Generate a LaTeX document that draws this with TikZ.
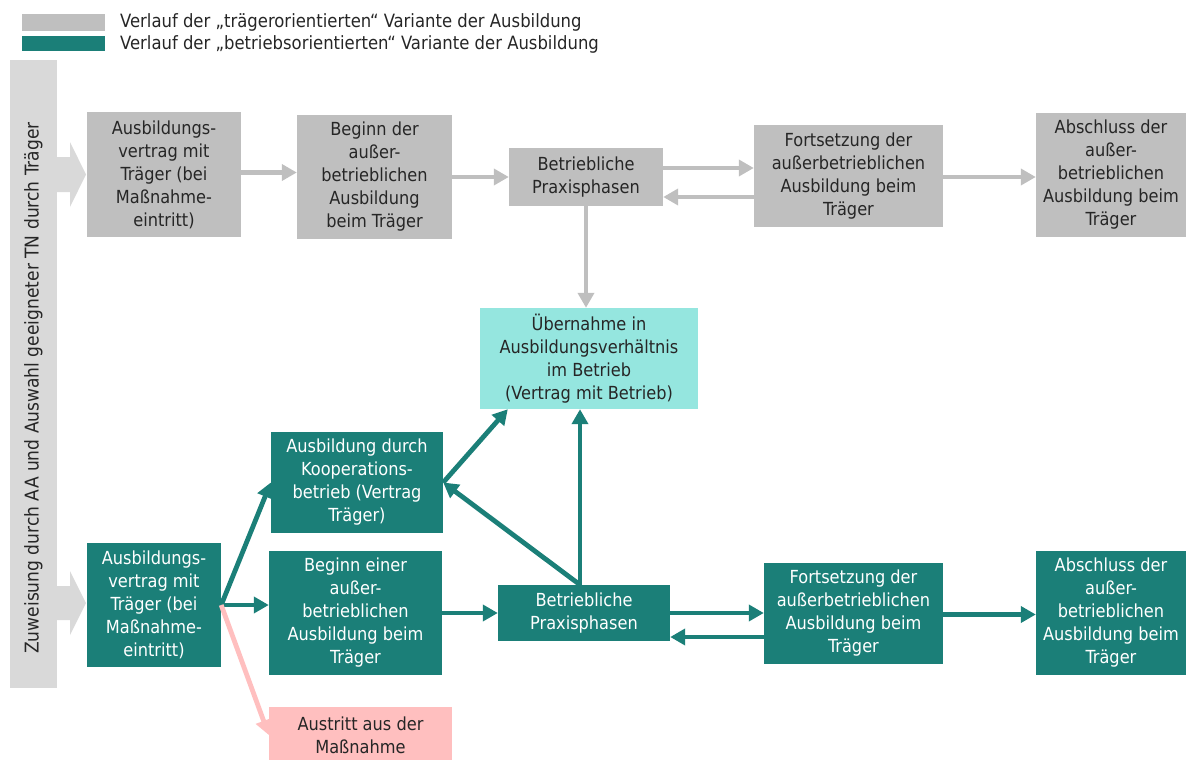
\documentclass[tikz,border=0pt]{standalone}
\usepackage{fontspec}
\setmainfont{DejaVu Sans Condensed}
\usetikzlibrary{arrows.meta}
\definecolor{boxgray}{HTML}{BFBFBF}
\definecolor{bargray}{HTML}{D9D9D9}
\definecolor{teal}{HTML}{1B7F78}
\definecolor{turq}{HTML}{95E6DF}
\definecolor{pinkbox}{HTML}{FFBFBF}
\definecolor{txtdark}{HTML}{262626}
\tikzset{
  box/.style={minimum width=#1, inner sep=0pt, align=center,
    font=\fontsize{18}{23}\selectfont},
  graybox/.style={box=#1, fill=boxgray, text=txtdark},
  tealbox/.style={box=#1, fill=teal, text=white},
  arr/.style={line width=4.8pt, -{Triangle[length=15pt,width=16pt]}},
  grayarr/.style={arr, draw=boxgray},
  tealarr/.style={arr, draw=teal},
  pinkarr/.style={arr, draw=pinkbox},
  legtext/.style={anchor=west, inner sep=0pt, text=txtdark, font=\fontsize{18.3}{20}\selectfont},
}
\begin{document}
\begin{tikzpicture}[x=1pt,y=-1pt]
\useasboundingbox (0,0) rectangle (1187,760);
\clip (0,0) rectangle (1187,760);
% legend
\fill[boxgray] (22,14) rectangle (105,31);
\fill[teal] (22,36) rectangle (105,51);
\node[legtext] (leg1) at (120,22) {Verlauf der „trägerorientierten“ Variante der Ausbildung};
\node[legtext] (leg2) at (120,44) {Verlauf der „betriebsorientierten“ Variante der Ausbildung};
% left bar
\fill[bargray] (10,60) rectangle (57,688);
\node[inner sep=0pt, rotate=90, text=txtdark, font=\fontsize{19}{20}\selectfont] (bar) at (33.5,388)
  {Zuweisung durch AA und Auswahl geeigneter TN durch Träger};
% chevrons
\fill[bargray] (57,157) -- (70,157) -- (70,142) -- (86,174.5) -- (70,207) -- (70,192) -- (57,192) -- cycle;
\fill[bargray] (57,586) -- (70,586) -- (70,571) -- (86,603) -- (70,635) -- (70,620) -- (57,620) -- cycle;
% top row
\node[graybox=154pt, minimum height=125pt] (t1) at (164,174.5) {Ausbildungs-\\vertrag mit\\Träger (bei\\Maßnahme-\\eintritt)};
\node[graybox=155pt, minimum height=124pt] (t2) at (374.5,177) {Beginn der\\außer-\\betrieblichen\\Ausbildung\\beim Träger};
\node[graybox=154pt, minimum height=58pt] (t3) at (586,177) {Betriebliche\\Praxisphasen};
\node[graybox=189pt, minimum height=102pt] (t4) at (848.5,176) {Fortsetzung der\\außerbetrieblichen\\Ausbildung beim\\Träger};
\node[graybox=150pt, minimum height=124pt] (t5) at (1111,175) {Abschluss der\\außer-\\betrieblichen\\Ausbildung beim\\Träger};
% Übernahme
\node[box=218pt, minimum height=101pt, fill=turq, text=txtdark] (u) at (589,358.5) {Übernahme in\\Ausbildungsverhältnis\\im Betrieb\\(Vertrag mit Betrieb)};
% bottom row
\node[tealbox=134pt, minimum height=124pt] (b1) at (154,605) {Ausbildungs-\\vertrag mit\\Träger (bei\\Maßnahme-\\eintritt)};
\node[tealbox=172pt, minimum height=101pt] (bk) at (357,482.5) {Ausbildung durch\\Kooperations-\\betrieb (Vertrag\\Träger)};
\node[tealbox=173pt, minimum height=124pt] (b2) at (355.5,613) {Beginn einer\\außer-\\betrieblichen\\Ausbildung beim\\Träger};
\node[tealbox=172pt, minimum height=56pt] (b3) at (584,613) {Betriebliche\\Praxisphasen};
\node[tealbox=179pt, minimum height=101pt] (b4) at (853.5,613.5) {Fortsetzung der\\außerbetrieblichen\\Ausbildung beim\\Träger};
\node[tealbox=150pt, minimum height=124pt] (b5) at (1111,613) {Abschluss der\\außer-\\betrieblichen\\Ausbildung beim\\Träger};
\node[box=183pt, minimum height=56pt, fill=pinkbox, text=txtdark] (ba) at (360.5,735) {Austritt aus der\\Maßnahme};
% top arrows
\draw[grayarr] ([yshift=2pt]t1.east) -- ([yshift=2pt]t1.east -| t2.west);
\draw[grayarr] (t2.east) -- (t2.east -| t3.west);
\draw[grayarr] ([yshift=9pt]t3.east) -- ([yshift=9pt]t3.east -| t4.west);
\draw[grayarr] ([yshift=-20pt]t3.east -| t4.west) -- ([yshift=-20pt]t3.east);
\draw[grayarr] ([yshift=-1pt]t4.east) -- ([yshift=-1pt]t4.east -| t5.west);
\draw[grayarr] (t3.south) -- (t3.south |- u.north);
% bottom arrows
\draw[tealarr] (b1.east) -- (bk.west);
\draw[tealarr] (b1.east) -- (b1.east -| b2.west);
\draw[pinkarr] (b1.east) -- (ba.west);
\draw[tealarr] (b2.east) -- (b2.east -| b3.west);
\draw[tealarr] (b3.east) -- (b3.east -| b4.west);
\draw[tealarr] ([yshift=-24pt]b3.east -| b4.west) -- ([yshift=-24pt]b3.east);
\draw[tealarr] ([yshift=-1pt]b4.east) -- ([yshift=-1pt]b4.east -| b5.west);
\draw[tealarr] ([xshift=-4pt]b3.north) -- ([xshift=-4pt]b3.north |- u.south);
\draw[tealarr] ([xshift=-4pt]b3.north) -- (bk.east);
\draw[tealarr] (bk.east) -- ([xshift=28pt]u.south west);
\end{tikzpicture}
\end{document}
